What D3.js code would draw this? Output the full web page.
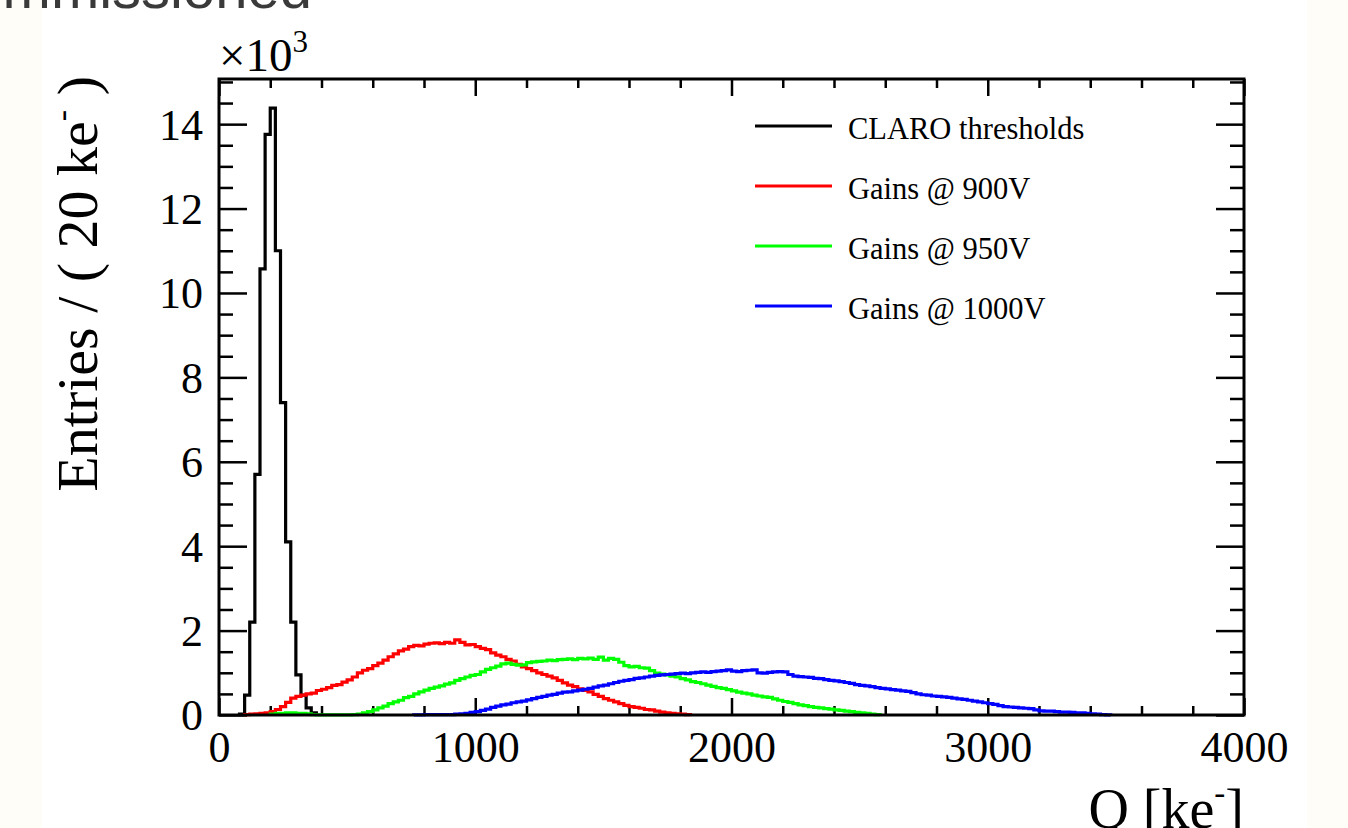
<!DOCTYPE html>
<html>
<head>
<meta charset="utf-8">
<script src="https://cdn.jsdelivr.net/npm/d3@7"></script>
<style>
  html, body { margin: 0; padding: 0; background: #fffdf7; }
  svg { display: block; }
  .serif { font-family: "Liberation Serif", "Times New Roman", serif; }
</style>
</head>
<body>
<svg id="chart" width="1348" height="828"></svg>
<script>
// histogram contents, entries in units of 10^3 per 20 ke- bin
var binWidth = 20;

var seriesNames = ["CLARO thresholds", "Gains @ 900V", "Gains @ 950V", "Gains @ 1000V"];
var seriesColors = ["#000000", "#ff0000", "#00ff00", "#0000ff"];

var claroStart = 80;
var claroCounts = [0.02, 0.47, 2.2, 5.7, 10.57, 13.76, 14.38, 11.0, 7.4, 4.1, 2.2, 0.95, 0.47, 0.17, 0.05];

var gain900Start = 100;
var gain900Counts = [
  0.01, 0.02, 0.03, 0.04, 0.05, 0.08, 0.13, 0.2, 0.3, 0.4,
  0.44, 0.47, 0.5, 0.52, 0.58, 0.61, 0.65, 0.7, 0.72, 0.78,
  0.83, 0.9, 1.0, 1.06, 1.1, 1.17, 1.23, 1.3, 1.38, 1.45,
  1.52, 1.56, 1.62, 1.65, 1.64, 1.68, 1.7, 1.71, 1.69, 1.72,
  1.7, 1.78, 1.72, 1.66, 1.67, 1.62, 1.58, 1.55, 1.47, 1.42,
  1.38, 1.32, 1.28, 1.2, 1.14, 1.1, 1.05, 1.0, 0.96, 0.92,
  0.88, 0.82, 0.76, 0.71, 0.67, 0.62, 0.58, 0.55, 0.49, 0.44,
  0.39, 0.35, 0.31, 0.27, 0.23, 0.2, 0.18, 0.16, 0.13, 0.12,
  0.09, 0.07, 0.05, 0.04, 0.03, 0.02, 0.01
];

var gain950Start = 200;
var gain950Counts = [
  0.02, 0.04, 0.04, 0.05, 0.05, 0.04, 0.04, 0.03, 0.01, 0.005,
  0.005, 0.005, 0.005, 0.005, 0.005, 0.005, 0.01, 0.02, 0.05, 0.08,
  0.12, 0.17, 0.21, 0.27, 0.31, 0.35, 0.41, 0.44, 0.5, 0.55,
  0.59, 0.63, 0.66, 0.69, 0.73, 0.76, 0.82, 0.86, 0.9, 0.94,
  0.96, 1.02, 1.08, 1.12, 1.16, 1.21, 1.23, 1.2, 1.18, 1.19,
  1.24, 1.26, 1.27, 1.28, 1.3, 1.29, 1.31, 1.32, 1.33, 1.31,
  1.34, 1.33, 1.35, 1.32, 1.37, 1.3, 1.34, 1.32, 1.25, 1.17,
  1.14, 1.15, 1.12, 1.11, 1.05, 0.99, 0.97, 0.95, 0.92, 0.9,
  0.86, 0.83, 0.79, 0.77, 0.74, 0.71, 0.68, 0.65, 0.63, 0.6,
  0.57, 0.54, 0.52, 0.5, 0.47, 0.45, 0.43, 0.42, 0.38, 0.35,
  0.32, 0.3, 0.27, 0.24, 0.22, 0.2, 0.18, 0.17, 0.15, 0.14,
  0.12, 0.11, 0.09, 0.08, 0.06, 0.05, 0.04, 0.02, 0.01
];

var gain1000Start = 760;
var gain1000Counts = [
  0.005, 0.005, 0.01, 0.01, 0.01, 0.01, 0.01, 0.01, 0.02, 0.03,
  0.04, 0.06, 0.08, 0.11, 0.14, 0.18, 0.21, 0.24, 0.26, 0.29,
  0.31, 0.33, 0.36, 0.39, 0.42, 0.44, 0.47, 0.49, 0.52, 0.54,
  0.55, 0.57, 0.59, 0.61, 0.63, 0.66, 0.69, 0.71, 0.74, 0.77,
  0.8, 0.82, 0.84, 0.87, 0.88, 0.9, 0.92, 0.94, 0.95, 0.96,
  0.97, 0.98, 0.99, 0.98, 1.0, 1.01, 1.02, 1.01, 1.03, 1.04,
  1.05, 1.07, 1.04, 1.03, 1.05, 1.06, 1.07, 1.0, 0.99, 1.01,
  1.02, 1.03, 1.02, 0.96, 0.92, 0.91, 0.9, 0.89, 0.87, 0.86,
  0.84, 0.82, 0.81, 0.79, 0.77, 0.75, 0.72, 0.7, 0.69, 0.67,
  0.65, 0.63, 0.62, 0.6, 0.59, 0.57, 0.56, 0.53, 0.5, 0.48,
  0.47, 0.45, 0.44, 0.43, 0.42, 0.4, 0.38, 0.37, 0.35, 0.33,
  0.31, 0.29, 0.27, 0.25, 0.22, 0.2, 0.19, 0.18, 0.17, 0.16,
  0.15, 0.12, 0.1, 0.09, 0.09, 0.08, 0.07, 0.07, 0.06, 0.05,
  0.05, 0.04, 0.03, 0.02, 0.01, 0.005
];

var xMajorTicks = [0, 1000, 2000, 3000, 4000];
var yMajorTicks = [0, 2, 4, 6, 8, 10, 12, 14];

(function (d3) {
  'use strict';

  var svg = d3.select("#chart");
  var W = 1348, H = 828;
  var left = 219, right = 1244, top = 79, bottom = 715;

  // slide background: cream margins with a white panel
  svg.append("rect").attr("width", W).attr("height", H).attr("fill", "#fffdf7");
  svg.append("rect").attr("x", 42).attr("width", 1265).attr("height", H).attr("fill", "#ffffff");

  // slide heading, cut off at the top of the picture as in the original
  svg.append("text")
    .attr("x", 312).attr("y", 8)
    .attr("text-anchor", "end")
    .style("font-family", "'Liberation Sans', Arial, sans-serif")
    .style("font-size", "58px")
    .attr("fill", "#3a3a3a")
    .text("Commissioned");

  var x = d3.scaleLinear().domain([0, 4000]).range([left, right]);
  var y = d3.scaleLinear().domain([0, 15.07]).range([bottom, top]);

  var xMinor = d3.range(0, 4001, 200).filter(function (v) { return v % 1000 !== 0; });
  var yMinor = d3.range(0, 15.01, 0.5).filter(function (v) { return v % 2 !== 0; });

  function styleAxis(g) {
    g.select(".domain").remove();
    g.selectAll(".tick line").attr("stroke", "#000").attr("stroke-width", 2.5);
  }

  // bottom
  svg.append("g").attr("transform", "translate(0," + bottom + ")")
    .call(d3.axisBottom(x).tickValues(xMajorTicks).tickSize(-17).tickFormat(d3.format("d")))
    .call(styleAxis)
    .call(function (g) {
      g.selectAll(".tick text")
        .attr("class", "serif")
        .attr("y", 47).attr("dy", null)
        .style("font-size", "44px").attr("fill", "#000");
    });
  svg.append("g").attr("transform", "translate(0," + bottom + ")")
    .call(d3.axisBottom(x).tickValues(xMinor).tickSize(-9).tickFormat(""))
    .call(styleAxis);

  // top
  svg.append("g").attr("transform", "translate(0," + top + ")")
    .call(d3.axisTop(x).tickValues(xMajorTicks).tickSize(-17).tickFormat(""))
    .call(styleAxis);
  svg.append("g").attr("transform", "translate(0," + top + ")")
    .call(d3.axisTop(x).tickValues(xMinor).tickSize(-9).tickFormat(""))
    .call(styleAxis);

  // left
  svg.append("g").attr("transform", "translate(" + left + ",0)")
    .call(d3.axisLeft(y).tickValues(yMajorTicks).tickSize(-28).tickFormat(d3.format("d")))
    .call(styleAxis)
    .call(function (g) {
      g.selectAll(".tick text")
        .attr("class", "serif")
        .attr("x", -16).attr("dy", "0.34em")
        .style("font-size", "44px").attr("fill", "#000");
    });
  svg.append("g").attr("transform", "translate(" + left + ",0)")
    .call(d3.axisLeft(y).tickValues(yMinor).tickSize(-14).tickFormat(""))
    .call(styleAxis);

  // right
  svg.append("g").attr("transform", "translate(" + right + ",0)")
    .call(d3.axisRight(y).tickValues(yMajorTicks).tickSize(-28).tickFormat(""))
    .call(styleAxis);
  svg.append("g").attr("transform", "translate(" + right + ",0)")
    .call(d3.axisRight(y).tickValues(yMinor).tickSize(-14).tickFormat(""))
    .call(styleAxis);

  // histograms
  var stepLine = d3.line()
    .x(function (d) { return x(d[0]); })
    .y(function (d) { return y(d[1]); })
    .curve(d3.curveStepAfter);

  function stepPoints(start, counts) {
    var pts = [[start, 0]];
    counts.forEach(function (c, i) { pts.push([start + i * binWidth, c]); });
    pts.push([start + counts.length * binWidth, 0]);
    return pts;
  }

  var hists = [
    stepPoints(claroStart, claroCounts),
    stepPoints(gain900Start, gain900Counts),
    stepPoints(gain950Start, gain950Counts),
    stepPoints(gain1000Start, gain1000Counts)
  ];

  svg.append("g").selectAll("path")
    .data(hists)
    .enter().append("path")
    .attr("d", stepLine)
    .attr("fill", "none")
    .attr("stroke", function (d, i) { return seriesColors[i]; })
    .attr("stroke-width", 3.2)
    .attr("stroke-linejoin", "miter");

  // frame
  svg.append("rect")
    .attr("x", left).attr("y", top)
    .attr("width", right - left).attr("height", bottom - top)
    .attr("fill", "none").attr("stroke", "#000").attr("stroke-width", 3);

  // legend
  var legend = svg.append("g").attr("transform", "translate(755,126)");
  var item = legend.selectAll("g").data(seriesNames).enter().append("g")
    .attr("transform", function (d, i) { return "translate(0," + (i * 60) + ")"; });
  item.append("line")
    .attr("x1", 0).attr("x2", 77)
    .attr("stroke", function (d, i) { return seriesColors[i]; })
    .attr("stroke-width", 3);
  item.append("text")
    .attr("class", "serif")
    .attr("x", 93).attr("y", 13)
    .style("font-size", "30.5px")
    .text(function (d) { return d; });

  // exponent label
  var expo = svg.append("text").attr("class", "serif")
    .attr("x", 219).attr("y", 71)
    .style("font-size", "47px");
  expo.append("tspan").text("\u00d710");
  expo.append("tspan").attr("dy", -19).style("font-size", "31px").text("3");

  // axis titles
  var ytitle = svg.append("text").attr("class", "serif")
    .attr("transform", "translate(97," + (top - 3) + ") rotate(-90)")
    .attr("text-anchor", "end")
    .style("font-size", "58px");
  ytitle.append("tspan").text("Entries / ( 20 ke");
  ytitle.append("tspan").attr("dy", -24).style("font-size", "34px").text("-");
  ytitle.append("tspan").attr("dy", 24).text(" )");

  var xtitle = svg.append("text").attr("class", "serif")
    .attr("x", right).attr("y", 828)
    .attr("text-anchor", "end")
    .style("font-size", "56px");
  xtitle.append("tspan").text("Q [ke");
  xtitle.append("tspan").attr("dy", -24).style("font-size", "33px").text("-");
  xtitle.append("tspan").attr("dy", 24).text("]");

})(window.d3);
</script>
</body>
</html>
